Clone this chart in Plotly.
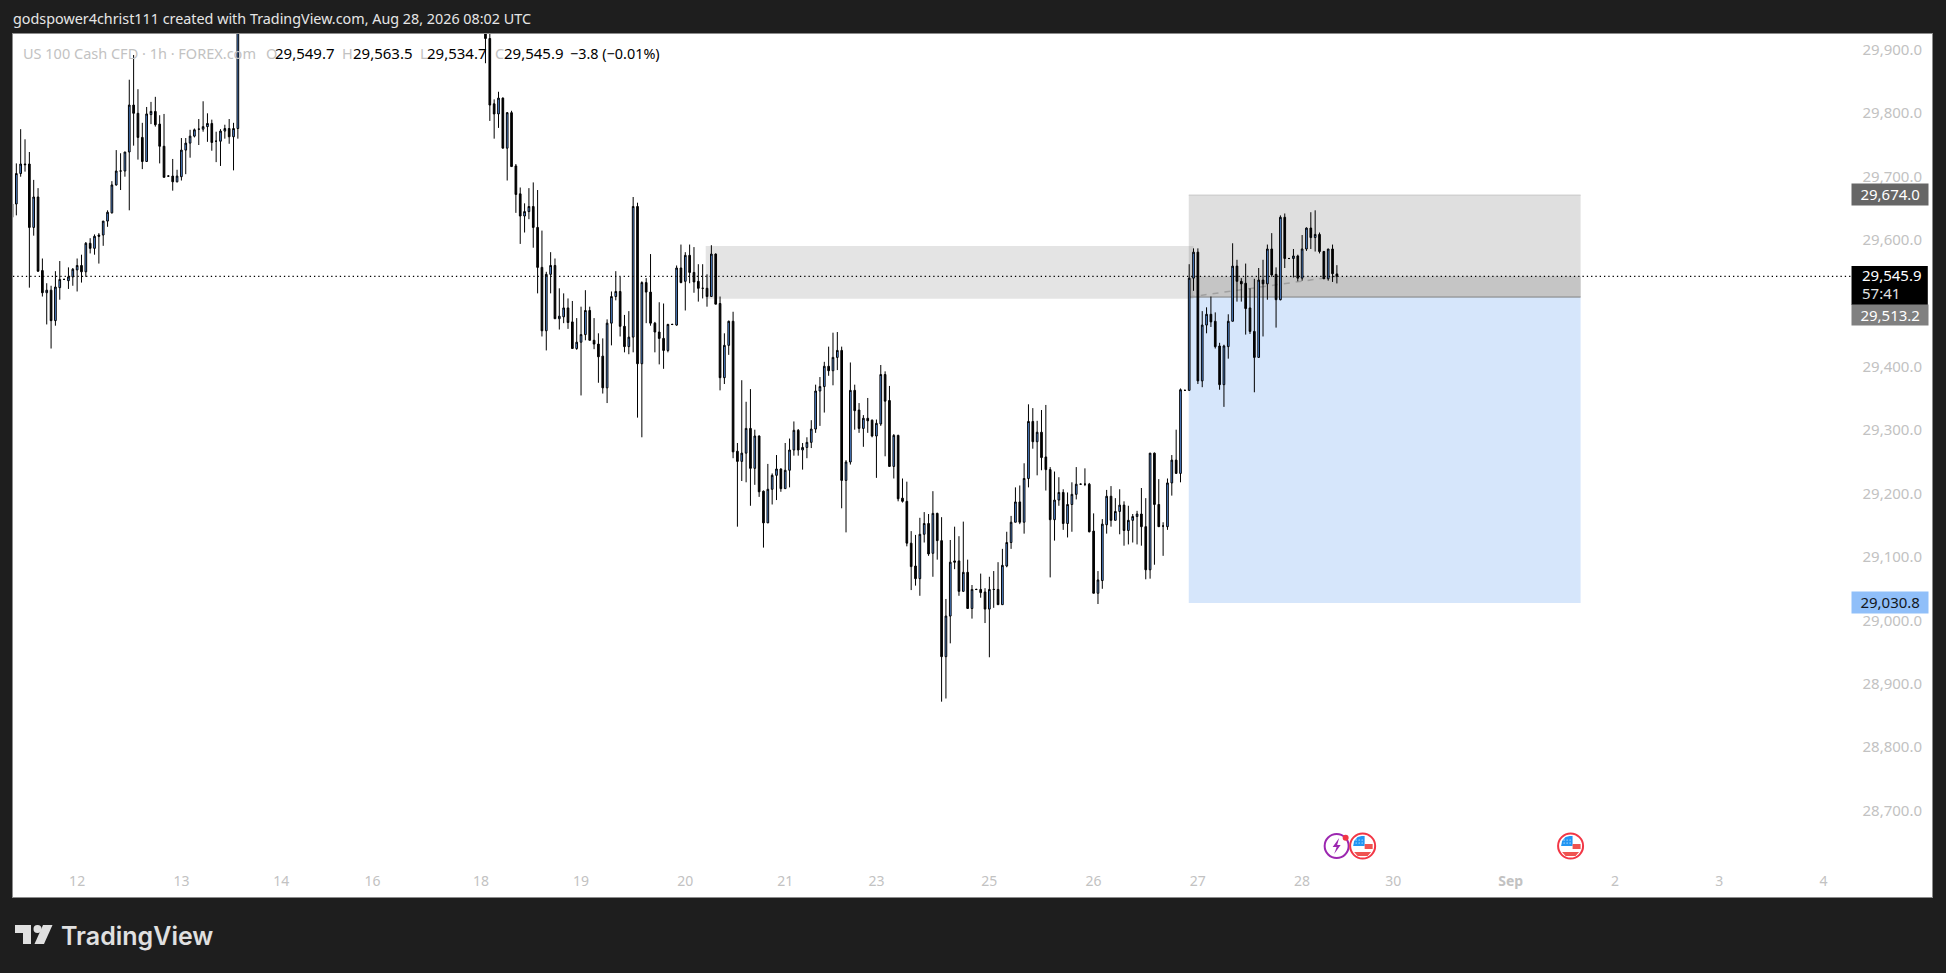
import plotly.graph_objects as go

# ---------- data ----------
bar_index = list(range(-1, 52)) + list(range(108, 305))

open_a = [29639,29660,29708,29723,29723,29623,29671,29555,29520,29524,
          29476,29528,29541,29539,29545,29556,29563,29553,29598,29590,
          29611,29611,29633,29646,29690,29712,29712,29742,29816,29803,
          29765,29727,29801,29806,29786,29751,29704,29704,29695,29703,
          29745,29756,29767,29778,29778,29782,29787,29759,29759,29775,
          29779,29766,29779]
high_a = [29666,29724,29778,29762,29742,29698,29685,29574,29535,29531,
          29554,29570,29542,29560,29559,29574,29580,29600,29606,29612,
          29614,29633,29650,29696,29745,29740,29742,29856,29895,29841,
          29788,29813,29821,29829,29800,29802,29705,29731,29714,29764,
          29764,29777,29779,29794,29822,29803,29793,29774,29778,29785,
          29794,29788,30080]
low_a = [29637,29642,29703,29711,29528,29610,29553,29514,29470,29432,
         29468,29509,29540,29526,29531,29522,29536,29545,29582,29580,
         29566,29594,29624,29645,29689,29682,29703,29650,29752,29730,
         29715,29727,29786,29782,29724,29702,29703,29681,29694,29697,
         29707,29733,29765,29753,29774,29758,29744,29726,29720,29763,
         29755,29713,29763]
close_a = [29660,29708,29723,29722,29623,29671,29554,29520,29524,29476,
           29529,29541,29541,29545,29557,29563,29553,29598,29590,29609,
           29609,29633,29647,29690,29712,29712,29742,29816,29803,29765,
           29727,29802,29806,29785,29751,29702,29704,29695,29704,29745,
           29756,29767,29777,29778,29782,29787,29757,29759,29775,29779,
           29766,29779,30050]

open_b = [29960,29921,29818,29802,29827,29748,29804,29720,29676,29641,
          29648,29656,29623,29560,29460,29549,29563,29479,29482,29496,
          29474,29432,29442,29454,29492,29445,29439,29420,29370,29472,
          29514,29522,29467,29435,29450,29656,29408,29536,29521,29472,
          29458,29448,29429,29470,29469,29559,29538,29579,29552,29538,
          29527,29527,29514,29581,29503,29386,29437,29475,29270,29254,
          29267,29306,29243,29294,29207,29157,29210,29232,29242,29211,
          29240,29272,29303,29272,29276,29284,29305,29365,29372,29404,
          29397,29418,29429,29224,29253,29366,29335,29306,29322,29319,
          29294,29313,29391,29350,29246,29295,29196,29191,29125,29089,
          29069,29139,29156,29109,29172,29129,28946,29010,29097,29097,
          29049,29079,29022,29052,29052,29048,29021,29052,29052,29028,
          29089,29126,29158,29190,29158,29227,29317,29285,29300,29261,
          29241,29162,29193,29205,29156,29186,29202,29218,29218,29218,
          29144,29046,29066,29154,29199,29161,29175,29185,29145,29161,
          29167,29171,29151,29083,29267,29186,29152,29151,29220,29256,
          29235,29366,29366,29543,29584,29381,29469,29486,29475,29436,
          29375,29435,29475,29562,29538,29535,29496,29459,29418,29540,
          29534,29589,29549,29509,29639,29574,29574,29578,29543,29589,
          29622,29607,29612,29585,29542,29589,29549.7]
high_b = [29990,29935,29825,29837,29828,29805,29807,29723,29686,29661,
          29685,29694,29682,29618,29553,29584,29574,29527,29519,29511,
          29507,29480,29498,29524,29498,29480,29456,29448,29478,29522,
          29554,29545,29485,29491,29671,29662,29538,29543,29581,29474,
          29505,29503,29471,29471,29563,29596,29584,29596,29592,29565,
          29565,29549,29595,29582,29514,29456,29476,29490,29283,29382,
          29348,29368,29304,29295,29208,29250,29235,29264,29243,29283,
          29290,29317,29305,29283,29292,29319,29375,29387,29411,29435,
          29457,29458,29435,29256,29410,29375,29346,29327,29354,29320,
          29320,29406,29396,29373,29297,29296,29227,29222,29144,29138,
          29165,29174,29171,29207,29173,29166,29037,29130,29151,29136,
          29159,29099,29059,29053,29077,29054,29072,29081,29095,29116,
          29143,29168,29213,29216,29251,29344,29338,29318,29335,29343,
          29245,29238,29229,29210,29205,29221,29245,29219,29243,29220,
          29172,29081,29163,29209,29215,29196,29210,29191,29184,29171,
          29176,29212,29196,29267,29268,29226,29158,29227,29264,29304,
          29369,29367,29565,29590,29590,29491,29497,29514,29489,29441,
          29438,29486,29598,29572,29543,29566,29527,29542,29559,29572,
          29596,29614,29560,29642,29645,29575,29589,29580,29611,29623,
          29647,29650,29615,29586,29589,29596,29563.5]
low_b = [29882,29791,29763,29780,29748,29697,29719,29646,29597,29615,
         29636,29591,29519,29451,29429,29519,29479,29462,29472,29463,
         29432,29430,29358,29445,29445,29431,29378,29361,29346,29437,
         29508,29451,29426,29423,29426,29323,29292,29472,29468,29426,
         29407,29400,29426,29469,29468,29535,29492,29535,29520,29506,
         29511,29498,29514,29502,29366,29376,29422,29259,29151,29223,
         29221,29184,29217,29198,29118,29157,29186,29193,29206,29211,
         29213,29263,29263,29241,29259,29275,29299,29310,29331,29389,
         29374,29398,29180,29142,29249,29304,29299,29277,29299,29292,
         29228,29310,29262,29246,29227,29191,29189,29120,29051,29058,
         29042,29126,29105,29072,29099,28875,28880,28967,29084,29042,
         29049,29022,29006,29051,29039,28999,28945,29023,29028,29028,
         29087,29116,29158,29155,29140,29213,29274,29232,29240,29208,
         29071,29129,29184,29146,29134,29143,29194,29217,29215,29142,
         29046,29029,29053,29140,29151,29161,29139,29121,29123,29126,
         29123,29121,29068,29069,29091,29151,29105,29146,29200,29235,
         29221,29365,29366,29523,29376,29371,29456,29466,29432,29367,
         29340,29416,29475,29506,29506,29454,29455,29363,29418,29451,
         29509,29545,29465,29508,29559,29573,29544,29538,29539,29586,
         29589,29585,29582,29542,29539,29537,29534.7]
close_b = [29921,29816,29802,29827,29748,29804,29719,29675,29641,29648,
           29656,29623,29560,29460,29549,29563,29479,29483,29496,29473,
           29432,29442,29454,29492,29445,29439,29419,29370,29472,29514,
           29522,29467,29435,29450,29656,29408,29536,29521,29472,29458,
           29448,29429,29470,29470,29559,29536,29579,29552,29537,29527,
           29527,29514,29581,29502,29386,29437,29475,29269,29254,29267,
           29306,29243,29294,29206,29157,29210,29232,29242,29211,29240,
           29272,29303,29272,29276,29284,29305,29365,29372,29404,29397,
           29418,29429,29224,29253,29366,29334,29306,29322,29318,29294,
           29314,29391,29349,29246,29295,29195,29191,29125,29088,29069,
           29139,29156,29108,29172,29129,28946,29010,29095,29095,29049,
           29079,29022,29052,29052,29047,29021,29052,29052,29028,29090,
           29126,29158,29190,29158,29227,29317,29285,29300,29260,29241,
           29162,29193,29205,29156,29186,29202,29218,29218,29218,29143,
           29046,29067,29155,29199,29161,29175,29185,29145,29161,29167,
           29171,29151,29083,29267,29186,29151,29152,29220,29256,29235,
           29367,29366,29543,29584,29381,29469,29486,29474,29435,29375,
           29436,29475,29562,29538,29534,29495,29459,29418,29540,29534,
           29589,29548,29509,29639,29574,29574,29578,29543,29589,29622,
           29607,29612,29585,29542,29589,29550,29545.9]

price_ticks = [29900, 29800, 29700, 29600, 29400, 29300, 29200, 29100, 29000, 28900, 28800, 28700]
price_labels = ["29,900.0", "29,800.0", "29,700.0", "29,600.0", "29,400.0", "29,300.0",
                "29,200.0", "29,100.0", "29,000.0", "28,900.0", "28,800.0", "28,700.0"]
time_ticks = [14, 38, 61, 82, 107, 130, 154, 177, 198, 224, 248, 272, 296, 317, 344, 368, 392, 416]
time_labels = ["12", "13", "14", "16", "18", "19", "20", "21", "23", "25", "26", "27", "28", "30",
               "<b>Sep</b>", "2", "3", "4"]

last_price = 29545.9
entry_price = 29513.2
stop_price = 29674.0
target_price = 29030.8
zone_top, zone_bottom = 29593.7, 29510.6
zone_start, zone_end = 158.7, 271.0
tool_start, tool_end = 269.9, 360.1
last_bar = 304

opens = open_a + open_b
highs = high_a + high_b
lows = low_a + low_b
closes = close_a + close_b
assert len(bar_index) == len(opens) == len(highs) == len(lows) == len(closes)

# ---------- layout helpers ----------
W, H = 1946, 973
L, R, T, B = 13, 1932.5, 34, 897


def px(x):
    return (x - L) / (R - L)


def py(y):
    return (B - y) / (B - T)


FONT = "Noto Sans"
GREY = "#c2c2c2"

fig = go.Figure(go.Candlestick(
    x=bar_index, open=opens, high=highs, low=lows, close=closes,
    increasing=dict(fillcolor="#5b9cf6", line=dict(color="#000000", width=1)),
    decreasing=dict(fillcolor="#000000", line=dict(color="#000000", width=1)),
    whiskerwidth=0, hoverinfo="skip", showlegend=False,
))

shapes = [
    dict(type="rect", xref="x", yref="y", x0=tool_start, x1=tool_end, y0=entry_price, y1=target_price,
         fillcolor="#d6e6fb", line_width=0, layer="below"),
    dict(type="rect", xref="x", yref="y", x0=tool_start, x1=tool_end, y0=entry_price, y1=stop_price,
         fillcolor="#dfdfdf", line_width=0, layer="below"),
    dict(type="rect", xref="x", yref="y", x0=tool_start, x1=tool_end, y0=entry_price, y1=last_price,
         fillcolor="#c5c5c5", line_width=0, layer="below"),
    dict(type="rect", xref="x", yref="y", x0=zone_start, x1=zone_end, y0=zone_bottom, y1=zone_top,
         fillcolor="rgba(128,128,128,0.21)", line_width=0, layer="below"),
    dict(type="line", xref="x", yref="y", x0=tool_start, x1=tool_end, y0=stop_price, y1=stop_price,
         line=dict(color="#c8c8c8", width=1), layer="below"),
    dict(type="line", xref="x", yref="y", x0=tool_start, x1=tool_end, y0=entry_price, y1=entry_price,
         line=dict(color="#808080", width=1), layer="below"),
    dict(type="line", xref="x", yref="y", x0=tool_start, x1=last_bar, y0=entry_price, y1=last_price,
         line=dict(color="#a0a0a0", width=1.5, dash="6px,6px"), layer="below"),
    dict(type="line", xref="paper", yref="y", x0=0, x1=px(1852), y0=last_price, y1=last_price,
         line=dict(color="#000000", width=1.3, dash="1.3px,3px")),
    dict(type="rect", xref="paper", yref="paper", x0=px(1852), x1=px(1928.3), y0=py(305), y1=py(266),
         fillcolor="#000000", line_width=0),
]


def poly(points, fill, line=None):
    path = "M" + " L".join(f"{px(a):.5f},{py(b):.5f}" for a, b in points) + " Z"
    shapes.append(dict(type="path", xref="paper", yref="paper", path=path, fillcolor=fill,
                       line=dict(color=line or fill, width=0 if line is None else 1)))


def circle(cx, cy, r, fill, line=None, width=0):
    shapes.append(dict(type="circle", xref="paper", yref="paper",
                       x0=px(cx - r), x1=px(cx + r), y0=py(cy + r), y1=py(cy - r),
                       fillcolor=fill, line=dict(color=line or fill, width=width)))


# TradingView mark
poly([(15, 925), (31, 925), (31, 944), (23, 944), (23, 933), (15, 933)], "#e0e0e0")
circle(37.5, 929, 4, "#e0e0e0")
poly([(43, 925), (52.5, 925), (44, 944), (34.5, 944)], "#e0e0e0")

# purple event marker
circle(1337, 846, 12, "rgba(255,255,255,1)", "#9c27b0", 2)
poly([(1339.5, 838), (1333, 847), (1337, 847), (1334.5, 854), (1341, 845), (1337.5, 845)], "#9c27b0")
circle(1346, 837.7, 3, "#f23645")


def flag(cx, cy):
    circle(cx, cy, 12.5, "#ffffff", "#f23645", 2)
    poly([(cx - 9.5, cy), (cx - 8.5, cy - 5), (cx - 5, cy - 9), (cx - 1, cy - 10), (cx + 2, cy - 10), (cx + 2, cy)],
         "#2196f3")
    poly([(cx + 2, cy - 2), (cx + 10, cy - 2), (cx + 10, cy + 3), (cx + 2, cy + 3)], "#ef5350")
    poly([(cx - 8.5, cy + 6), (cx + 8.5, cy + 6), (cx + 5, cy + 10), (cx - 5, cy + 10)], "#ef5350")
    for dx in (-7, -4, -1):
        for dy in (-6, -3):
            circle(cx + dx + 0.5, cy + dy, 0.6, "#ffffff")


flag(1363, 846)
flag(1571, 846)

annotations = []


def text(x, y, s, size=14, color="#000000", anchor="left", family=FONT, weight=None):
    f = dict(family=family, size=size, color=color)
    if weight:
        f["weight"] = weight
    annotations.append(dict(xref="paper", yref="paper", x=px(x), y=py(y), text=s, showarrow=False,
                            xanchor=anchor, yanchor="middle", borderpad=0, font=f))


text(12, 19, "godspower4christ111 created with TradingView.com, Aug 28, 2026 08:02 UTC", 14.35, "#e6e6e6")
text(22, 53, "US 100 Cash CFD · 1h · FOREX.com", 14.5, GREY)
text(265, 53, "O", 14.5, GREY)
text(274.5, 53, "29,549.7", 15)
text(341.5, 53, "H", 14.5, GREY)
text(352.5, 53, "29,563.5", 15)
text(419.5, 53, "L", 14.5, GREY)
text(426.5, 53, "29,534.7", 15)
text(494, 53, "C", 14.5, GREY)
text(503, 53, "29,545.9", 15)
text(569, 53, "−3.8 (−0.01%)", 14.4)
text(60, 936, "TradingView", 25, "#e0e0e0", family="Inter", weight=600)


def price_box(price, label, bg, fg="#ffffff", height=20.7, yshift=0):
    annotations.append(dict(xref="paper", yref="y", x=px(1890.2), y=price, text=label, showarrow=False,
                            xanchor="center", yanchor="middle", width=76.3, height=height, yshift=yshift,
                            bgcolor=bg, borderpad=0, align="center",
                            font=dict(family=FONT, size=15, color=fg)))


price_box(stop_price, "29,674.0", "#666666", yshift=1)
price_box(entry_price, "29,513.2", "#808080", height=19.7, yshift=-17.5)
price_box(target_price, "29,030.8", "#90bff9", fg="#131722")
text(1861, 275, "29,545.9", 15, "#ffffff")
text(1861, 292.5, "57:41", 15, "#e0e0e0")

fig.update_layout(
    width=W, height=H, autosize=False,
    paper_bgcolor="#1e1e1e", plot_bgcolor="#ffffff",
    margin=dict(l=L, r=W - R, t=T, b=H - B, pad=0),
    font=dict(family=FONT, size=15, color=GREY),
    showlegend=False, hovermode=False, boxgap=0.45,
    shapes=shapes, annotations=annotations,
    xaxis=dict(type="linear", range=[-0.766, 441.0], rangeslider=dict(visible=False), showgrid=False,
               zeroline=False, tickmode="array", tickvals=time_ticks, ticktext=time_labels,
               ticklabelposition="inside", ticks="", ticklabelstandoff=8, showline=True, mirror=True,
               linecolor="#8c8c8c", linewidth=1, tickfont=dict(family=FONT, size=14, color=GREY)),
    yaxis=dict(side="right", range=[28566.9, 29928.1], showgrid=False, zeroline=False, tickmode="array",
               tickvals=price_ticks, ticktext=price_labels, ticklabelposition="inside", ticks="",
               ticklabelstandoff=10, ticklabelshift=-2, showline=True, mirror=True, linecolor="#8c8c8c",
               linewidth=1, tickfont=dict(family=FONT, size=15, color=GREY)),
)

fig.write_html("out.html", config=dict(displayModeBar=False),
               post_script="document.body.style.margin='0';document.body.style.background='#1e1e1e';")
